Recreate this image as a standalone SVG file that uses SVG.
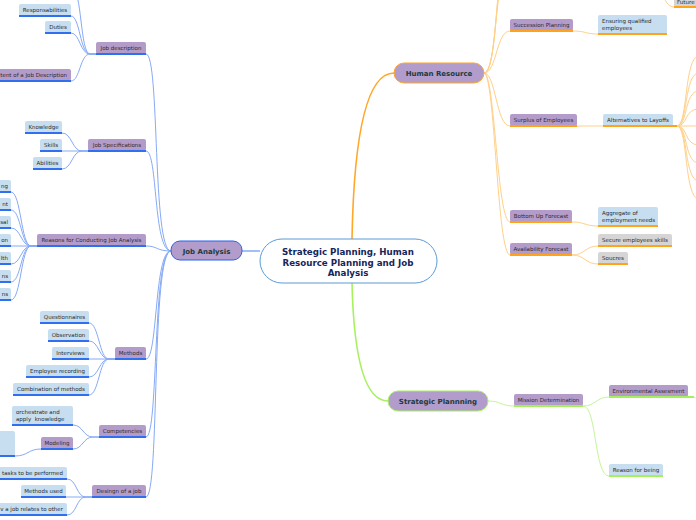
<svg xmlns="http://www.w3.org/2000/svg" width="696" height="520" viewBox="0 0 696 520">
<style>
.t{font-family:"DejaVu Sans","Liberation Sans",sans-serif;font-size:5.5px;fill:#2a2a2a;}
.tm{font-family:"DejaVu Sans","Liberation Sans",sans-serif;font-size:7px;font-weight:bold;fill:#1c3a3a;text-anchor:middle;}
.tc{font-family:"DejaVu Sans","Liberation Sans",sans-serif;font-size:8.7px;font-weight:bold;fill:#16265a;text-anchor:middle;}
.c{text-anchor:middle;}
.e{text-anchor:end;}
.sub{fill:#b49cca;}
.leaf{fill:#c6def0;}
.gray{fill:#d5d5d5;}
.ub{stroke:#2f6ff0;stroke-width:2;}
.uo{stroke:#ffa31a;stroke-width:2;}
.ug{stroke:#a4f05a;stroke-width:2;}
.cb{fill:none;stroke:#86aaf6;stroke-width:1;}
.co{fill:none;stroke:#ffd08a;stroke-width:1;}
.cg{fill:none;stroke:#c4f59a;stroke-width:1;}
</style>
<rect width="696" height="520" fill="#ffffff"/>
<g id="connectors">
  <path d="M242,251 L260,251" fill="none" stroke="#8db0f5" stroke-width="1.6"/>
  <path d="M352,239 C354,130 368,73 394,73" fill="none" stroke="#ffa726" stroke-width="1.6"/>
  <path d="M352,283 C354,370 368,401 388,401" fill="none" stroke="#a8f060" stroke-width="1.6"/>
  <path class="cb" d="M171,251 C152,251 160,54 146,54"/>
  <path class="cb" d="M171,251 C153,251 158,151 146,151"/>
  <path class="cb" d="M171,251 C156,251 158,246 146,246"/>
  <path class="cb" d="M171,251 C154,251 158,359 146,359"/>
  <path class="cb" d="M171,251 C152,251 159,437 146,437"/>
  <path class="cb" d="M171,251 C151,251 160,497 146,497"/>
  <path class="cb" d="M96,54 L90,54 C80,54 82,-12 72,-12"/>
  <path class="cb" d="M96,54 L90,54 C80,54 80,16 71,16"/>
  <path class="cb" d="M96,54 L90,54 C80,54 80,33 71,33"/>
  <path class="cb" d="M96,54 L90,54 C80,54 80,81 71,81"/>
  <path class="cb" d="M88,151 L82,151 C72,151 72,133 62,133"/>
  <path class="cb" d="M88,151 L62,151"/>
  <path class="cb" d="M88,151 L82,151 C72,151 72,169 62,169"/>
  <path class="cb" d="M37,246 L31,246 C21,246 21,192 11,192"/>
  <path class="cb" d="M37,246 L31,246 C21,246 21,210 11,210"/>
  <path class="cb" d="M37,246 L31,246 C21,246 21,228 11,228"/>
  <path class="cb" d="M37,246 L11,246"/>
  <path class="cb" d="M37,246 L31,246 C21,246 21,264 11,264"/>
  <path class="cb" d="M37,246 L31,246 C21,246 21,282 11,282"/>
  <path class="cb" d="M37,246 L31,246 C21,246 21,300 11,300"/>
  <path class="cb" d="M115,359 L109,359 C99,359 99,323 89,323"/>
  <path class="cb" d="M115,359 L109,359 C99,359 99,341 89,341"/>
  <path class="cb" d="M115,359 L89,359"/>
  <path class="cb" d="M115,359 L109,359 C99,359 99,377 89,377"/>
  <path class="cb" d="M115,359 L109,359 C99,359 99,395 89,395"/>
  <path class="cb" d="M99,437 L93,437 C83,437 83,425 73,425"/>
  <path class="cb" d="M99,437 L93,437 C83,437 83,449 73,449"/>
  <path class="cb" d="M41,449 C28,449 28,456 15,456"/>
  <path class="cb" d="M92,497 L86,497 C76,497 77,479 67,479"/>
  <path class="cb" d="M92,497 L66,497"/>
  <path class="cb" d="M92,497 L86,497 C76,497 77,515 67,515"/>
  <path class="co" d="M484,73 C497,73 494,-20 506,-20"/>
  <path class="co" d="M484,73 C498,73 495,-40 507,-40"/>
  <path class="co" d="M484,73 C499,73 496,-60 508,-60"/>
  <path class="co" d="M484,73 C497,73 496,31 510,31"/>
  <path class="co" d="M484,73 C496,73 496,126 510,126"/>
  <path class="co" d="M484,73 C495,73 497,222 510,222"/>
  <path class="co" d="M484,73 C495,73 497,255 510,255"/>
  <path class="co" d="M650,-20 C662,-20 662,7 674,7"/>
  <path class="co" d="M573,31 C586,31 585,34 598,34"/>
  <path class="co" d="M577,126 L603,126"/>
  <path class="co" d="M677,126 C688,126 684,56 699,56"/>
  <path class="co" d="M677,126 C688,126 684,73 699,73"/>
  <path class="co" d="M677,126 C688,126 684,91 699,91"/>
  <path class="co" d="M677,126 C688,126 684,109 699,109"/>
  <path class="co" d="M677,126 L699,126"/>
  <path class="co" d="M677,126 C688,126 684,145 699,145"/>
  <path class="co" d="M677,126 C688,126 684,163 699,163"/>
  <path class="co" d="M677,126 C688,126 684,181 699,181"/>
  <path class="co" d="M677,126 C688,126 684,199 699,199"/>
  <path class="co" d="M572,222 C585,222 585,226 598,226"/>
  <path class="co" d="M572,255 C585,255 585,246 598,246"/>
  <path class="co" d="M572,255 C585,255 585,264 598,264"/>
  <path class="cg" d="M488,401 C501,401 501,406 514,406"/>
  <path class="cg" d="M583,406 C596,406 596,397 609,397"/>
  <path class="cg" d="M583,406 C597,406 594,476 609,476"/>
  <path class="cg" d="M692,397 C697,397 696,400 700,400"/>
</g>

<g id="central">
  <rect x="260" y="239" width="177" height="44" rx="22" fill="#ffffff" stroke="#5b9bd5" stroke-width="1"/>
  <text class="tc" x="348" y="254.5">Strategic Planning, Human</text>
  <text class="tc" x="348" y="265.5">Resource Planning and Job</text>
  <text class="tc" x="348" y="276">Analysis</text>
</g>

<g id="job-analysis">
  <rect x="171" y="241" width="71" height="19" rx="9" fill="#b29ccb" stroke="#2a62ea" stroke-width="1"/>
  <text class="tm" x="206.5" y="253.5">Job Analysis</text>
</g>
<g id="human-resource">
  <rect x="394" y="63" width="90" height="20" rx="10" fill="#b29ccb" stroke="#ffa726" stroke-width="1"/>
  <text class="tm" x="439" y="75.5">Human Resource</text>
</g>
<g id="strategic-planning">
  <rect x="388" y="391" width="100" height="20" rx="10" fill="#b29ccb" stroke="#a8f060" stroke-width="1"/>
  <text class="tm" x="438" y="403.5">Strategic Plannning</text>
</g>

<g id="job-description">
  <rect class="sub" x="96" y="42" width="50" height="12" rx="2"/>
  <line class="ub" x1="96" y1="54" x2="146" y2="54"/>
  <text class="t c" x="121" y="50">Job description</text>
</g>
<g id="responsabilities">
  <rect class="leaf" x="19" y="4" width="52" height="12" rx="2"/>
  <line class="ub" x1="19" y1="16" x2="71" y2="16"/>
  <text class="t c" x="45" y="12">Responsabilities</text>
</g>
<g id="duties">
  <rect class="leaf" x="45" y="21" width="26" height="12" rx="2"/>
  <line class="ub" x1="45" y1="33" x2="71" y2="33"/>
  <text class="t c" x="58" y="29">Duties</text>
</g>
<g id="content-job-description">
  <rect class="sub" x="-40" y="69" width="111" height="12" rx="2"/>
  <line class="ub" x1="-40" y1="81" x2="71" y2="81"/>
  <text class="t e" x="67" y="77">tent of a Job Description</text>
</g>

<g id="job-specifications">
  <rect class="sub" x="88" y="139" width="58" height="12" rx="2"/>
  <line class="ub" x1="88" y1="151" x2="146" y2="151"/>
  <text class="t c" x="117" y="147">Job Specifications</text>
</g>
<g id="knowledge">
  <rect class="leaf" x="25" y="121" width="37" height="12" rx="2"/>
  <line class="ub" x1="25" y1="133" x2="62" y2="133"/>
  <text class="t c" x="43.5" y="129">Knowledge</text>
</g>
<g id="skills">
  <rect class="leaf" x="40" y="139" width="22" height="12" rx="2"/>
  <line class="ub" x1="40" y1="151" x2="62" y2="151"/>
  <text class="t c" x="51" y="147">Skills</text>
</g>
<g id="abilities">
  <rect class="leaf" x="33" y="157" width="29" height="12" rx="2"/>
  <line class="ub" x1="33" y1="169" x2="62" y2="169"/>
  <text class="t c" x="47.5" y="165">Abilities</text>
</g>

<g id="reasons">
  <rect class="sub" x="37" y="234" width="109" height="12" rx="2"/>
  <line class="ub" x1="37" y1="246" x2="146" y2="246"/>
  <text class="t c" x="91.5" y="242">Reasons for Conducting Job Analysis</text>
</g>
<g id="reason-1"><rect class="leaf" x="-20" y="180" width="31" height="12" rx="2"/><line class="ub" x1="-20" y1="192" x2="11" y2="192"/><text class="t e" x="8" y="188">ng</text></g>
<g id="reason-2"><rect class="leaf" x="-20" y="198" width="31" height="12" rx="2"/><line class="ub" x1="-20" y1="210" x2="11" y2="210"/><text class="t e" x="8" y="206">nt</text></g>
<g id="reason-3"><rect class="leaf" x="-20" y="216" width="31" height="12" rx="2"/><line class="ub" x1="-20" y1="228" x2="11" y2="228"/><text class="t e" x="8" y="224">sal</text></g>
<g id="reason-4"><rect class="leaf" x="-20" y="234" width="31" height="12" rx="2"/><line class="ub" x1="-20" y1="246" x2="11" y2="246"/><text class="t e" x="8" y="242">on</text></g>
<g id="reason-5"><rect class="leaf" x="-20" y="252" width="31" height="12" rx="2"/><line class="ub" x1="-20" y1="264" x2="11" y2="264"/><text class="t e" x="8" y="260">lth</text></g>
<g id="reason-6"><rect class="leaf" x="-20" y="270" width="31" height="12" rx="2"/><line class="ub" x1="-20" y1="282" x2="11" y2="282"/><text class="t e" x="8" y="278">ns</text></g>
<g id="reason-7"><rect class="leaf" x="-20" y="288" width="31" height="12" rx="2"/><line class="ub" x1="-20" y1="300" x2="11" y2="300"/><text class="t e" x="8" y="296">ns</text></g>

<g id="methods">
  <rect class="sub" x="115" y="347" width="31" height="12" rx="2"/>
  <line class="ub" x1="115" y1="359" x2="146" y2="359"/>
  <text class="t c" x="130.5" y="355">Methods</text>
</g>
<g id="questionnaires"><rect class="leaf" x="40" y="311" width="49" height="12" rx="2"/><line class="ub" x1="40" y1="323" x2="89" y2="323"/><text class="t c" x="64.5" y="319">Questionnaires</text></g>
<g id="observation"><rect class="leaf" x="48" y="329" width="41" height="12" rx="2"/><line class="ub" x1="48" y1="341" x2="89" y2="341"/><text class="t c" x="68.5" y="337">Observation</text></g>
<g id="interviews"><rect class="leaf" x="52" y="347" width="37" height="12" rx="2"/><line class="ub" x1="52" y1="359" x2="89" y2="359"/><text class="t c" x="70.5" y="355">Interviews</text></g>
<g id="employee-recording"><rect class="leaf" x="26" y="365" width="63" height="12" rx="2"/><line class="ub" x1="26" y1="377" x2="89" y2="377"/><text class="t c" x="57.5" y="373">Employee recording</text></g>
<g id="combination"><rect class="leaf" x="13" y="383" width="76" height="12" rx="2"/><line class="ub" x1="13" y1="395" x2="89" y2="395"/><text class="t c" x="51" y="391">Combination of methods</text></g>

<g id="competencies">
  <rect class="sub" x="99" y="425" width="47" height="12" rx="2"/>
  <line class="ub" x1="99" y1="437" x2="146" y2="437"/>
  <text class="t c" x="122.5" y="433">Competencies</text>
</g>
<g id="orchestrate">
  <rect class="leaf" x="12" y="406" width="61" height="19" rx="2"/>
  <line class="ub" x1="12" y1="425" x2="73" y2="425"/>
  <text class="t" x="16" y="414">orchestrate and</text>
  <text class="t" x="16" y="421" xml:space="preserve">apply  knowledge</text>
</g>
<g id="modeling">
  <rect class="sub" x="41" y="437" width="32" height="12" rx="2"/>
  <line class="ub" x1="41" y1="449" x2="73" y2="449"/>
  <text class="t c" x="57" y="445">Modeling</text>
</g>
<g id="modeling-child">
  <rect class="leaf" x="-20" y="431" width="35" height="25" rx="2"/>
  <line class="ub" x1="-20" y1="456" x2="15" y2="456"/>
</g>

<g id="design-of-job">
  <rect class="sub" x="92" y="485" width="54" height="12" rx="2"/>
  <line class="ub" x1="92" y1="497" x2="146" y2="497"/>
  <text class="t c" x="119" y="493">Desingn of a job</text>
</g>
<g id="tasks"><rect class="leaf" x="-20" y="467" width="87" height="12" rx="2"/><line class="ub" x1="-20" y1="479" x2="67" y2="479"/><text class="t e" x="63" y="475">tasks to be performed</text></g>
<g id="methods-used"><rect class="leaf" x="21" y="485" width="45" height="12" rx="2"/><line class="ub" x1="21" y1="497" x2="66" y2="497"/><text class="t c" x="43.5" y="493">Methods used</text></g>
<g id="job-relates"><rect class="leaf" x="-20" y="503" width="87" height="12" rx="2"/><line class="ub" x1="-20" y1="515" x2="67" y2="515"/><text class="t e" x="63" y="511">v a job relates to other</text></g>

<g id="future"><rect class="gray" x="674" y="-5" width="30" height="12" rx="2"/><line class="uo" x1="674" y1="7" x2="704" y2="7"/><text class="t" x="677" y="4">Future</text></g>
<g id="succession-planning">
  <rect class="sub" x="510" y="19" width="63" height="12" rx="2"/>
  <line class="uo" x1="510" y1="31" x2="573" y2="31"/>
  <text class="t c" x="541.5" y="27">Succession Planning</text>
</g>
<g id="ensuring">
  <rect class="leaf" x="598" y="15" width="69" height="19" rx="2"/>
  <line class="uo" x1="598" y1="34" x2="667" y2="34"/>
  <text class="t" x="602" y="23">Ensuring qualified</text>
  <text class="t" x="602" y="30">employees</text>
</g>
<g id="surplus">
  <rect class="sub" x="510" y="114" width="67" height="12" rx="2"/>
  <line class="uo" x1="510" y1="126" x2="577" y2="126"/>
  <text class="t c" x="543.5" y="122">Surplus of Employees</text>
</g>
<g id="alternatives">
  <rect class="leaf" x="603" y="114" width="70" height="12" rx="2"/>
  <line class="uo" x1="603" y1="126" x2="677" y2="126"/>
  <text class="t c" x="638" y="122">Alternatives to Layoffs</text>
</g>
<g id="bottom-up">
  <rect class="sub" x="510" y="210" width="62" height="12" rx="2"/>
  <line class="uo" x1="510" y1="222" x2="572" y2="222"/>
  <text class="t c" x="541" y="218">Bottom Up Forecast</text>
</g>
<g id="aggregate">
  <rect class="leaf" x="598" y="207" width="60" height="19" rx="2"/>
  <line class="uo" x1="598" y1="226" x2="658" y2="226"/>
  <text class="t" x="602" y="215">Aggregate of</text>
  <text class="t" x="602" y="222">employment needs</text>
</g>
<g id="availability">
  <rect class="sub" x="510" y="243" width="62" height="12" rx="2"/>
  <line class="uo" x1="510" y1="255" x2="572" y2="255"/>
  <text class="t c" x="541" y="251">Availability Forecast</text>
</g>
<g id="secure">
  <rect class="gray" x="598" y="234" width="74" height="12" rx="2"/>
  <line class="uo" x1="598" y1="246" x2="672" y2="246"/>
  <text class="t c" x="635" y="242">Secure employees skills</text>
</g>
<g id="soucres">
  <rect class="gray" x="598" y="252" width="30" height="12" rx="2"/>
  <line class="uo" x1="598" y1="264" x2="628" y2="264"/>
  <text class="t c" x="613" y="260">Soucres</text>
</g>

<g id="mission">
  <rect class="sub" x="514" y="394" width="69" height="12" rx="2"/>
  <line class="ug" x1="514" y1="406" x2="583" y2="406"/>
  <text class="t c" x="548.5" y="402">Mission Determination</text>
</g>
<g id="environmental">
  <rect class="sub" x="609" y="385" width="79" height="12" rx="2"/>
  <line class="ug" x1="609" y1="397" x2="694" y2="397"/>
  <text class="t c" x="648.5" y="393">Environmental Assesment</text>
</g>
<g id="reason-for-being">
  <rect class="leaf" x="609" y="464" width="54" height="12" rx="2"/>
  <line class="ug" x1="609" y1="476" x2="663" y2="476"/>
  <text class="t c" x="636" y="472">Reason for being</text>
</g>
</svg>
